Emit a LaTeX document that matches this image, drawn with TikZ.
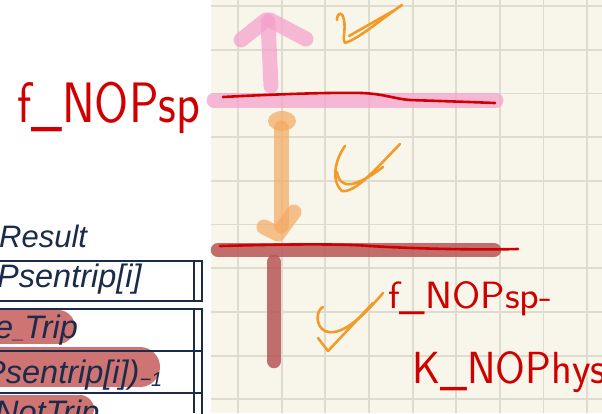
\documentclass[tikz,border=0pt]{standalone}
\usepackage{fontspec}
\setmainfont{Liberation Sans}
\definecolor{cream}{RGB}{248,246,234}
\definecolor{gridc}{RGB}{222,220,206}
\definecolor{hlpink}{RGB}{244,162,205}
\definecolor{hlorange}{RGB}{245,169,97}
\definecolor{hldark}{RGB}{184,86,86}
\definecolor{inkred}{RGB}{208,0,0}
\definecolor{inkorange}{RGB}{243,155,40}
\definecolor{navy}{RGB}{27,43,75}
\definecolor{blobc}{RGB}{206,116,114}
\begin{document}
\begin{tikzpicture}[x=1pt,y=-1pt,
  gridline/.style={draw=gridc, line width=1.8pt},
  inkline/.style={draw=inkred, line width=2.6pt, line cap=round, line join=round},
  checkline/.style={draw=inkorange, line width=2.6pt, line cap=round, line join=round},
  pinkhl/.style={draw=hlpink, line width=15pt, line cap=round, line join=round, opacity=0.75},
  orangehl/.style={draw=hlorange, line width=15pt, line cap=round, line join=round, opacity=0.7},
  darkhl/.style={draw=hldark, line width=14.5pt, line cap=round, line join=round, opacity=0.85},
  blob/.style={draw=blobc, line cap=round},
  tabline/.style={draw=navy, line width=1.3pt},
  tabtext/.style={anchor=base west, inner sep=0pt, text=navy, font=\fontsize{32.5}{36}\selectfont\itshape},
  handtext/.style={anchor=base west, inner sep=0pt, text=inkred}
]
\useasboundingbox (0,0) rectangle (602,413);
\clip (0,0) rectangle (602,413);
\fill[white] (0,0) rectangle (602,413);
\fill[cream] (211,0) rectangle (602,413);
\foreach \i in {0,...,8} \draw[gridline] ({238+43.65*\i},0) -- ({238+43.65*\i},413);
\foreach \j in {0,...,9} \draw[gridline] (211,{6+43.7*\j}) -- (602,{6+43.7*\j});

% table highlight blobs
\draw[blob, line width=34pt] (-10,327) -- (58,327);
\draw[blob, line width=40pt] (-10,367) -- (140,367);
\draw[blob, line width=28pt] (-10,409) -- (80,409);

% table
\draw[tabline] (-5,261) rectangle (202,301);
\draw[tabline] (194,261) -- (194,301);
\draw[tabline] (-5,309) rectangle (202,440);
\draw[tabline] (194,309) -- (194,413);
\draw[tabline] (-5,351) -- (202,351);
\draw[tabline] (-5,393) -- (202,393);
\node[tabtext, font=\fontsize{31}{36}\selectfont\itshape] (res) at (-1,247) {Result};
\node[tabtext] (r1) at (-3,287) {Psentrip[i]};
\node[tabtext] (r2) at (-5,338) {e{\fontsize{20}{24}\selectfont\_}Trip};
\node[tabtext] (r3) at (-16,383) {Psentrip[i])\raisebox{-3pt}{\fontsize{20}{24}\selectfont −1}};
\node[tabtext] (r4) at (-5,423) {NotTrip};

% pink highlight and arrow
\draw[pinkhl] (214,100) -- (496,100);
\draw[pinkhl] (271,86) -- (268,22);
\draw[pinkhl] (241,40) -- (266,20);
\draw[pinkhl] (270,20) -- (306,39);

% orange arrow
\fill[hlorange, opacity=0.7] (282,121) ellipse [x radius=14, y radius=10];
\draw[orangehl] (281,128) -- (281,226);
\draw[orangehl] (264,227) -- (278,234) -- (294,212);

% dark red band
\draw[darkhl] (218,250) -- (494,250);
\draw[darkhl] (274,262) -- (274,361);

% red ink lines
\draw[inkline] (223,97) .. controls (260,95) and (330,92) .. (362,93) .. controls (385,94) and (395,99) .. (410,100) .. controls (440,101) and (470,102) .. (495,103);
\draw[inkline] (220,246) .. controls (260,245) and (330,243) .. (370,246) .. controls (420,249) and (480,250) .. (518,249);

% check marks
\draw[checkline] (337,20) .. controls (337,13) and (342,10) .. (344,20) .. controls (346,30) and (342,40) .. (345,43) .. controls (360,38) and (380,20) .. (402,5);
\draw[checkline] (349,36) -- (393,11);
\draw[checkline] (345,146) .. controls (336,158) and (330,180) .. (342,191) .. controls (355,193) and (375,170) .. (400,144);
\draw[checkline] (337,172) .. controls (340,190) and (355,188) .. (383,167);
\draw[checkline] (323,307) .. controls (316,310) and (315,326) .. (325,331) .. controls (340,337) and (360,320) .. (383,293);
\draw[checkline] (318,338) -- (328,351) -- (373,303);

% handwritten labels
\node[handtext, font=\sffamily\fontsize{57}{62}\selectfont] (hA) at (17,122) {\resizebox{183pt}{\height}{f\_NOPsp}};
\node[handtext, font=\sffamily\fontsize{38}{42}\selectfont] (hB) at (388,308) {\resizebox{164pt}{\height}{f\_NOPsp-}};
\node[handtext, font=\sffamily\fontsize{45}{50}\selectfont] (hC) at (412,383) {\resizebox{194pt}{\height}{K\_NOPhys}};
\end{tikzpicture}
\end{document}
